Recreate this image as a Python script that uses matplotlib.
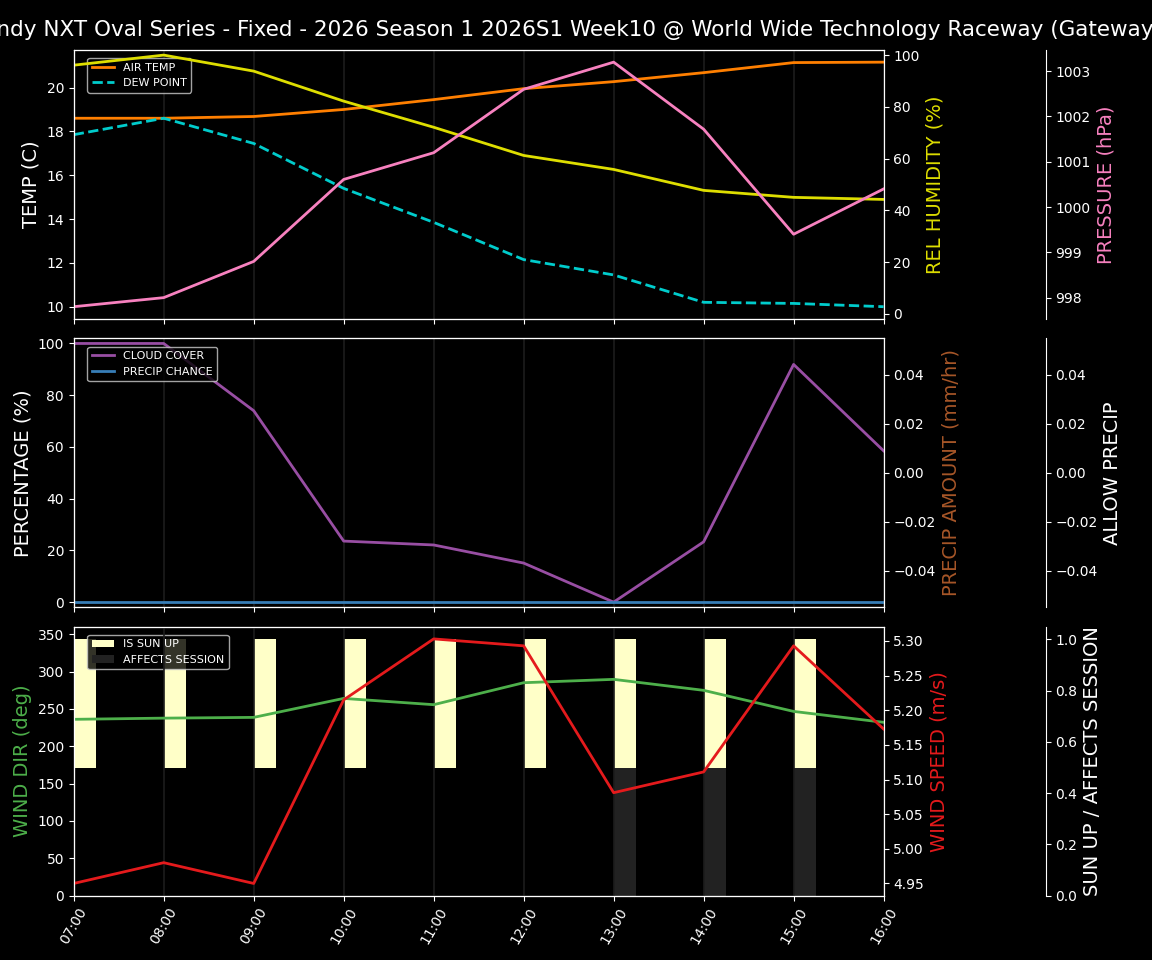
import numpy as np
import pandas as pd
import matplotlib
matplotlib.use('Agg')
import matplotlib.pyplot as plt
import matplotlib.dates as mdates

plt.style.use('dark_background')

title = ('Indy NXT Oval Series - Fixed - 2026 Season 1 2026S1 Week10 '
         '@ World Wide Technology Raceway (Gateway)')

hours = ['07:00', '08:00', '09:00', '10:00', '11:00',
         '12:00', '13:00', '14:00', '15:00', '16:00']
times = pd.to_datetime(['2026-03-14 ' + h for h in hours])

air_temp = [18.6, 18.6, 18.68, 19.0, 19.45, 19.95, 20.27, 20.68, 21.14, 21.16]
dew_point = [17.85, 18.6, 17.45, 15.4, 13.85, 12.15, 11.45, 10.2, 10.15, 10.0]
humidity = [96.1, 100.0, 93.8, 82.2, 72.1, 61.2, 55.8, 47.7, 45.0, 44.2]
pressure = [997.8, 998.0, 998.8, 1000.61, 1001.2, 1002.6, 1003.2, 1001.72, 999.4, 1000.4]

cloud_cover = [100.0, 100.0, 74.0, 23.6, 22.1, 15.1, 0.0, 23.3, 91.9, 58.5]
precip_chance = [0, 0, 0, 0, 0, 0, 0, 0, 0, 0]
precip_amount = [0, 0, 0, 0, 0, 0, 0, 0, 0, 0]
allow_precip = [0, 0, 0, 0, 0, 0, 0, 0, 0, 0]

wind_dir = [236, 237.6, 238.6, 264, 255.6, 285, 289.5, 274.8, 246.6, 232]
wind_speed = [4.95, 4.98, 4.95, 5.215, 5.303, 5.293, 5.081, 5.111, 5.293, 5.173]

# sun up / affects session for each hour bar (last point has no bar)
sun_up = [1, 1, 1, 1, 1, 1, 1, 1, 1]
affects = [0, 0, 0, 0, 0, 0, 1, 1, 1]

bar_w = 0.25 / 24  # 15 minutes in days
grid_col = '#1c1c1c'
leg_kw = dict(loc='upper left', bbox_to_anchor=(0.01, 0.99), fontsize=8)

fig, axes = plt.subplots(3, 1, figsize=(11.52, 9.6), sharex=True)
fig.subplots_adjust(left=0.064, right=0.767, top=0.948, bottom=0.067, hspace=0.072)
fig.suptitle(title, fontsize=15.5, y=0.979)

for a in axes:
    a.grid(axis='x', color=grid_col, linewidth=1.2)
    a.grid(axis='y', visible=False)
    a.set_xlim(times[0], times[-1])

###     Temperature panel     ###
ax1 = axes[0]
ax1.plot(times, air_temp, color='#ff7f00', linewidth=2, label='AIR TEMP')
ax1.plot(times, dew_point, color='#00cccc', linewidth=2, linestyle='--', label='DEW POINT')
ax1.set_ylabel('TEMP (C)', fontsize=14)
ax1.legend(**leg_kw)

ax1b = ax1.twinx()
ax1b.plot(times, humidity, color='#dede00', linewidth=2)
ax1b.set_ylabel('REL HUMIDITY (%)', color='#dede00', fontsize=14)
ax1b.set_ylim(-2, 102)

ax1c = ax1.twinx()
ax1c.spines['right'].set_position(('axes', 1.2))
ax1c.plot(times, pressure, color='#f781bf', linewidth=2)
ax1c.set_ylabel('PRESSURE (hPa)', color='#f781bf', fontsize=14)

###     Precip panel     ###
ax2 = axes[1]
ax2.plot(times, cloud_cover, color='#984ea3', linewidth=2, label='CLOUD COVER')
ax2.plot(times, precip_chance, color='#377eb8', linewidth=2, label='PRECIP CHANCE')
ax2.set_ylabel('PERCENTAGE (%)', fontsize=14)
ax2.set_ylim(-2, 102)
ax2.legend(**leg_kw)

ax2b = ax2.twinx()
ax2b.bar(times, precip_amount, width=bar_w, color='#a65628')
ax2b.set_ylabel('PRECIP AMOUNT (mm/hr)', color='#a65628', fontsize=14)
ax2b.set_ylim(-0.055, 0.055)

ax2c = ax2.twinx()
ax2c.spines['right'].set_position(('axes', 1.2))
ax2c.bar(times, allow_precip, width=bar_w, color='white')
ax2c.set_ylabel('ALLOW PRECIP', fontsize=14)
ax2c.set_ylim(-0.055, 0.055)

###     Wind panel     ###
ax3 = axes[2]
ax3c = ax3.twinx()
ax3b = ax3.twinx()
ax3c.set_zorder(0)
ax3.set_zorder(1)
ax3b.set_zorder(2)
ax3.patch.set_visible(False)
ax3b.patch.set_visible(False)

ax3c.spines['right'].set_position(('axes', 1.2))
half = [0.5 * v for v in sun_up]
ax3c.bar(times[:-1], half, bottom=0.5, width=bar_w, align='edge',
         color='#ffffc8', label='IS SUN UP')
ax3c.bar(times[:-1], [0.5 * v for v in affects], width=bar_w, align='edge',
         color='#222222', label='AFFECTS SESSION')
ax3c.set_ylim(0, 1.05)
ax3c.set_ylabel('SUN UP / AFFECTS SESSION', fontsize=14)
ax3c.legend(**leg_kw)
ax3c.grid(axis='x', color=grid_col, linewidth=1.2)
ax3c.grid(axis='y', visible=False)

ax3.plot(times, wind_dir, color='#4daf4a', linewidth=2)
ax3.set_ylabel('WIND DIR (deg)', color='#4daf4a', fontsize=14)
ax3.set_ylim(0, 360)

ax3b.plot(times, wind_speed, color='#e41a1c', linewidth=2)
ax3b.set_ylabel('WIND SPEED (m/s)', color='#e41a1c', fontsize=14)

ax3.xaxis.set_major_locator(mdates.HourLocator())
ax3.xaxis.set_major_formatter(mdates.DateFormatter('%H:%M'))
plt.setp(ax3.get_xticklabels(), rotation=60)

fig.savefig('out.png', dpi=100)
